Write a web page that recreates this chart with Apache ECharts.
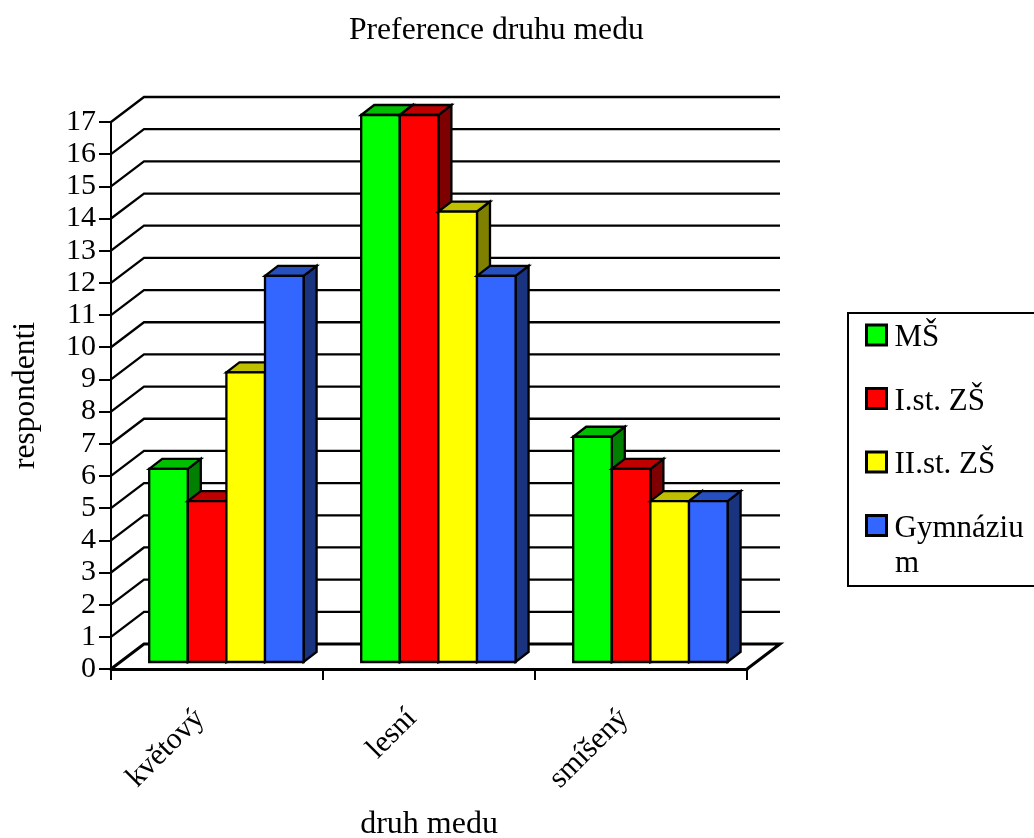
<!DOCTYPE html>
<html><head><meta charset="utf-8">
<style>html,body{margin:0;padding:0;background:#fff;overflow:hidden}#c{width:1034px;height:838px}</style>
<script src="https://cdn.jsdelivr.net/npm/echarts@6/dist/echarts.min.js"></script>
</head><body><div id="c"></div>
<script>
const categories = ['květový', 'lesní', 'smíšený'];
const ms = [6, 17, 7];
const zs1 = [5, 17, 6];
const zs2 = [9, 14, 5];
const gym = [12, 12, 5];
const seriesNames = ['MŠ', 'I.st. ZŠ', 'II.st. ZŠ', 'Gymnáziu'];
const legendWrapTail = 'm';
const wallTicks = [0,1,2,3,4,5,6,7,8,9,10,11,12,13,14,15,16,17];
const titleText = 'Preference druhu medu';
const FONT = '"Liberation Serif","Times New Roman",serif';
const colors = ['#00ff00', '#ff0000', '#ffff00', '#3366ff'];
const topColors = ['#00bf00', '#bf0000', '#bfbf00', '#2650bf'];
const sideColors = ['#007f00', '#7f0000', '#7f7f00', '#19337f'];

function wallItem(params, api) {
  const band = api.size([1, 0])[0];
  const p = api.coord([0, api.value(1)]);
  const x0 = p[0] - band / 2, y = p[1];
  const dx = 33, dy = 25;
  const xEnd = x0 + band * categories.length + dx;
  const pts = [[x0, y], [x0 + dx, y - dy], [xEnd, y - dy]];
  if (api.value(1) === 0) pts.push([xEnd - dx, y]);
  return { type: 'polyline', shape: { points: pts },
    style: { stroke: '#000', lineWidth: api.value(1) === 0 ? 3 : 2.3, fill: null } };
}
function barItemFactory(k, total) {
  return function (params, api) {
    const w = 38.6, ox = 9.4, oy = 7, dx = 13, dy = 10;
    const base = api.coord([api.value(0), 0]);
    const top = api.coord([api.value(0), api.value(1)]);
    const x = base[0] + ox - w * total / 2 + w * k;
    const y1 = base[1] - oy, y0 = top[1] - oy;
    const ln = { stroke: '#000', lineWidth: 2.3, lineJoin: 'miter' };
    return { type: 'group', children: [
      { type: 'polygon', shape: { points: [[x + w, y0], [x + w + dx, y0 - dy], [x + w + dx, y1 - dy], [x + w, y1]] },
        style: Object.assign({ fill: sideColors[k] }, ln) },
      { type: 'polygon', shape: { points: [[x, y0], [x + dx, y0 - dy], [x + w + dx, y0 - dy], [x + w, y0]] },
        style: Object.assign({ fill: topColors[k] }, ln) },
      { type: 'rect', shape: { x: x, y: y0, width: w, height: y1 - y0 },
        style: Object.assign({ fill: colors[k] }, ln) }
    ]};
  };
}
const values = [ms, zs1, zs2, gym];
const barSeries = seriesNames.map((n, k) => ({
  name: n, type: 'custom', z: 5 + k, silent: true,
  itemStyle: { color: colors[k] },
  renderItem: barItemFactory(k, seriesNames.length),
  data: values[k].map((v, i) => [i, v])
}));
const chart = echarts.init(document.getElementById('c'), null, { renderer: 'canvas' });
chart.setOption({
  animation: false,
  backgroundColor: '#fff',
  title: { text: titleText, left: 344, top: 10,
    textStyle: { fontFamily: FONT, fontSize: 31.6, fontWeight: 'normal', color: '#000' } },
  grid: { left: 111, top: 122, width: 636, height: 547, outerBoundsMode: 'none' },
  graphic: [{ type: 'text', z: 100, left: 895, top: 548,
    style: { text: legendWrapTail, fontFamily: FONT, fontSize: 31, fill: '#000' } }],
  legend: { orient: 'vertical', left: 848, top: 313, icon: 'rect',
    padding: [1, 60, 42, 17], itemWidth: 20, itemHeight: 20, itemGap: 24,
    backgroundColor: '#fff', borderColor: '#000', borderWidth: 2,
    itemStyle: { borderColor: '#000', borderWidth: 3 },
    textStyle: { fontFamily: FONT, fontSize: 31, color: '#000', padding: [0, 0, 0, 3],
      rich: { s: { fontSize: 6, lineHeight: 6 },
              a: { fontFamily: FONT, fontSize: 31, lineHeight: 36, color: '#000' } } },
    formatter: n => '{s| }\n{a|' + n + '}',
    data: seriesNames },
  xAxis: { type: 'category', data: categories, name: 'druh medu', nameLocation: 'middle', nameGap: 140,
    nameTextStyle: { fontFamily: FONT, fontSize: 32, color: '#000' },
    axisLine: { lineStyle: { color: '#000', width: 3 } },
    axisTick: { show: true, inside: false, length: 11, lineStyle: { color: '#000', width: 2 } },
    axisLabel: { rotate: 45, margin: 28, padding: [0, 24, 0, 0], fontFamily: FONT, fontSize: 30, color: '#000', interval: 0 } },
  yAxis: { type: 'value', min: 0, max: 17, interval: 1, name: 'respondenti', nameLocation: 'middle', nameGap: 69,
    nameTextStyle: { fontFamily: FONT, fontSize: 31.5, color: '#000' },
    splitLine: { show: false },
    axisLine: { show: true, lineStyle: { color: '#000', width: 2 } },
    axisTick: { show: true, inside: false, length: 12, lineStyle: { color: '#000', width: 2 } },
    axisLabel: { margin: 15, fontFamily: FONT, fontSize: 30, color: '#000' } },
  series: [{ name: 'wall', type: 'custom', z: 1, silent: true, renderItem: wallItem,
    data: wallTicks.map(v => [0, v]) }].concat(barSeries)
});
</script></body></html>
